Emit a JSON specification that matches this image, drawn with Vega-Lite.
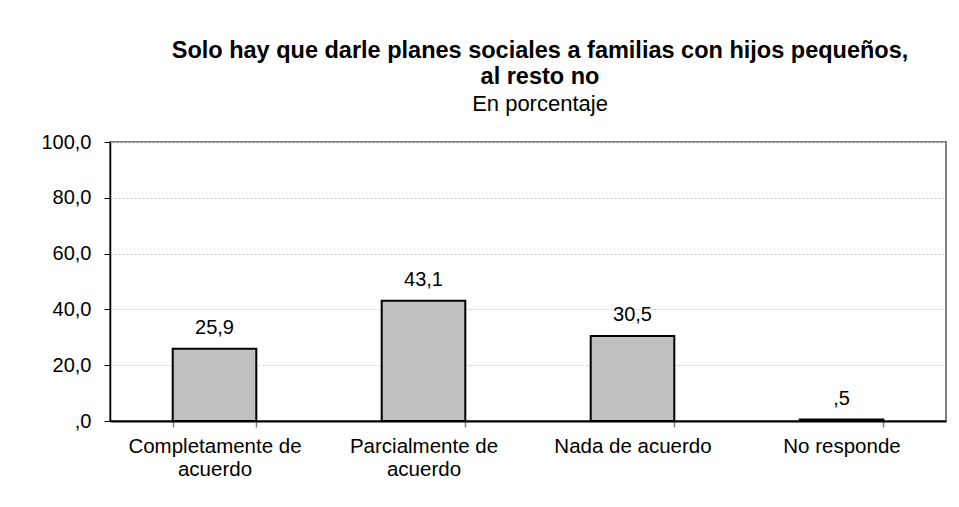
{
  "$schema": "https://vega.github.io/schema/vega-lite/v6.json",
  "width": 836,
  "height": 279,
  "autosize": "none",
  "padding": {"left": 110, "top": 142, "right": 13, "bottom": 86},
  "background": "white",
  "title": {
    "text": ["Solo hay que darle planes sociales a familias con hijos pequeños,", "al resto no"],
    "subtitle": "En porcentaje",
    "anchor": "middle",
    "frame": "group",
    "dx": 12,
    "offset": 17,
    "font": "Liberation Sans",
    "fontSize": 23.5,
    "fontWeight": "bold",
    "color": "black",
    "lineHeight": 26,
    "subtitleFont": "Liberation Sans",
    "subtitleFontSize": 22,
    "subtitleColor": "black",
    "subtitlePadding": 6
  },
  "data": {
    "values": [
      {"categoria": "Completamente de\nacuerdo", "valor": 25.9, "etiqueta": "25,9"},
      {"categoria": "Parcialmente de\nacuerdo", "valor": 43.1, "etiqueta": "43,1"},
      {"categoria": "Nada de acuerdo", "valor": 30.5, "etiqueta": "30,5"},
      {"categoria": "No responde", "valor": 0.5, "etiqueta": ",5"}
    ]
  },
  "encoding": {
    "x": {
      "field": "categoria",
      "type": "nominal",
      "sort": null,
      "scale": {"paddingInner": 0.6, "paddingOuter": 0.3},
      "axis": {
        "title": null,
        "labelAngle": 0,
        "labelExpr": "split(datum.label, '\\n')",
        "labelFont": "Liberation Sans",
        "labelFontSize": 20.5,
        "labelColor": "black",
        "labelLineHeight": 23,
        "labelPadding": 9,
        "tickBand": "extent",
        "tickSize": 6,
        "tickColor": "#808080",
        "tickWidth": 1.5,
        "domainColor": "black",
        "domainWidth": 2
      }
    },
    "y": {
      "field": "valor",
      "type": "quantitative",
      "scale": {"domain": [0, 100], "nice": false},
      "axis": {
        "title": null,
        "values": [0, 20, 40, 60, 80, 100],
        "labelExpr": "datum.value === 0 ? ',0' : replace(format(datum.value, '.1f'), '.', ',')",
        "labelFont": "Liberation Sans",
        "labelFontSize": 20,
        "labelColor": "black",
        "labelPadding": 13,
        "tickSize": 6,
        "tickColor": "black",
        "tickWidth": 1,
        "domainColor": "black",
        "domainWidth": 1.5,
        "grid": true,
        "gridColor": "#cccccc",
        "gridDash": [2, 2],
        "gridWidth": 1
      }
    }
  },
  "layer": [
    {
      "mark": {"type": "bar", "fill": "#c0c0c0", "stroke": "black", "strokeWidth": 2}
    },
    {
      "mark": {"type": "text", "baseline": "alphabetic", "dy": -15, "font": "Liberation Sans", "fontSize": 20, "color": "black"},
      "encoding": {"text": {"field": "etiqueta"}}
    }
  ],
  "config": {
    "view": {"stroke": "#808080", "strokeWidth": 2}
  }
}
